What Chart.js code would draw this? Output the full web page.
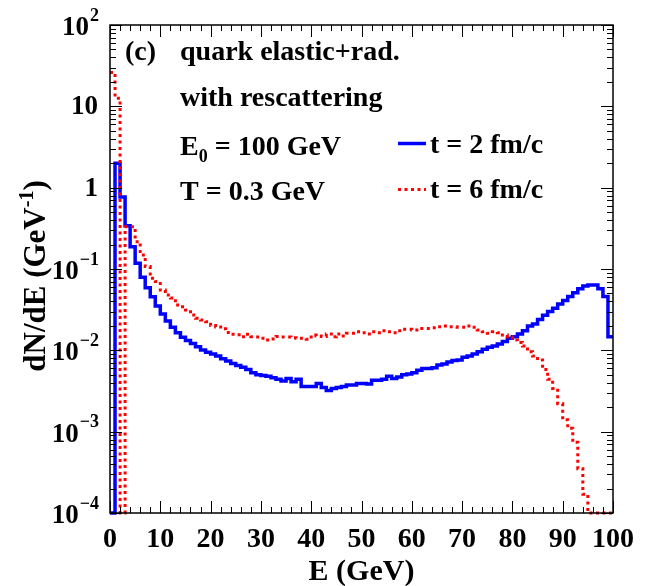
<!DOCTYPE html>
<html><head><meta charset="utf-8">
<script src="https://cdn.jsdelivr.net/npm/chart.js@4/dist/chart.umd.min.js"></script>
<style>html,body{margin:0;padding:0;background:#fff}#wrap{width:646px;height:586px}</style>
</head><body><div id="wrap"><canvas id="c" width="646" height="586"></canvas></div>
<script>
// ---- data (bin low edges in GeV, bin width 1 GeV) ----
const binEdges = [0,1,2,3,4,5,6,7,8,9,10,11,12,13,14,15,16,17,18,19,20,21,22,23,24,25,26,27,28,29,30,31,32,33,34,35,36,37,38,39,40,41,42,43,44,45,46,47,48,49,50,51,52,53,54,55,56,57,58,59,60,61,62,63,64,65,66,67,68,69,70,71,72,73,74,75,76,77,78,79,80,81,82,83,84,85,86,87,88,89,90,91,92,93,94,95,96,97,98,99,100];
// t = 2 fm/c (blue, solid)
const dNdE_t2 = [0,2.0,0.77,0.34,0.188,0.118,0.079,0.059,0.0456,0.035,
 0.028,0.023,0.0192,0.0165,0.0145,0.0132,0.0121,0.0111,0.0101,0.0095,
 0.0090,0.0085,0.0079,0.0074,0.0069,0.0065,0.0062,0.0058,0.0053,0.0050,
 0.0049,0.0048,0.0046,0.0044,0.0042,0.0045,0.0041,0.0044,0.0036,0.0036,
 0.0036,0.0039,0.0035,0.0032,0.0034,0.0035,0.0036,0.00375,0.00375,0.0039,
 0.0039,0.00385,0.0043,0.0043,0.0044,0.0048,0.0045,0.0047,0.0050,0.0051,
 0.0053,0.0057,0.0060,0.0060,0.0061,0.0066,0.0068,0.0072,0.0075,0.0076,
 0.0082,0.0085,0.0090,0.0096,0.0103,0.0109,0.0113,0.0120,0.0128,0.0141,
 0.0147,0.0159,0.0174,0.0199,0.0211,0.024,0.027,0.030,0.033,0.037,
 0.041,0.046,0.051,0.057,0.062,0.0635,0.0635,0.057,0.046,0.0147];
// t = 6 fm/c (red, dotted)
const dNdE_t6 = [26,12.6,0,0.33,0.33,0.217,0.149,0.107,0.077,0.070,
 0.055,0.048,0.044,0.036,0.0344,0.0313,0.0272,0.0248,0.0236,0.0225,
 0.0202,0.0194,0.0184,0.0166,0.0158,0.0156,0.0147,0.0158,0.0147,0.0146,
 0.0141,0.0134,0.0138,0.0148,0.0146,0.0146,0.0143,0.0141,0.0141,0.0137,
 0.0154,0.0150,0.0148,0.0159,0.0147,0.0159,0.0150,0.0162,0.0162,0.0169,
 0.0165,0.0159,0.0169,0.0165,0.0174,0.0169,0.0165,0.0174,0.0182,0.0182,
 0.0178,0.0186,0.0186,0.0186,0.0189,0.0195,0.0199,0.0195,0.0195,0.0192,
 0.0192,0.0199,0.0192,0.0178,0.0169,0.0162,0.0169,0.0165,0.0154,0.0147,
 0.0134,0.0125,0.0113,0.0096,0.0085,0.0076,0.0058,0.0044,0.0034,0.0022,
 0.0014,0.0011,0.00074,0.00035,0.00017,0,0,0,0,0];
const xTickLabels = ['0','10','20','30','40','50','60','70','80','90','100'];
const yTickExponents = [-4,-3,-2,-1,0,1,2];
const seriesLabels = ['t = 2 fm/c','t = 6 fm/c'];
const Y_MIN = 1e-4, Y_MAX = 100, X_MIN = 0, X_MAX = 100;

const SERIF = '"Liberation Serif", "Times New Roman", Times, serif';
const f = (sz) => `bold ${sz}px ${SERIF}`;

function histPoints(values) {
  const pts = values.map((v, i) => ({x: binEdges[i], y: v > 0 ? v : Y_MIN}));
  pts.push({x: binEdges[values.length], y: pts[pts.length - 1].y});
  return pts;
}

const decor = {
  id: 'decor',
  afterDatasetsDraw(chart) {
    const {ctx, chartArea: a, scales: {x, y}} = chart;
    ctx.save();
    ctx.strokeStyle = '#000';
    ctx.fillStyle = '#000';
    // ticks
    ctx.lineWidth = 1;
    ctx.beginPath();
    for (let v = X_MIN; v <= X_MAX; v += 2) {
      const px = Math.round(x.getPixelForValue(v)) + 0.5;
      const len = (v % 10 === 0) ? 12 : 6;
      ctx.moveTo(px, a.bottom); ctx.lineTo(px, a.bottom - len);
      ctx.moveTo(px, a.top); ctx.lineTo(px, a.top + len);
    }
    for (const e of yTickExponents) {
      for (let k = 1; k <= 9; k++) {
        const val = k * Math.pow(10, e);
        if (val > Y_MAX * 1.0001) break;
        const py = Math.round(y.getPixelForValue(val)) + 0.5;
        const len = (k === 1) ? 12 : 6;
        ctx.moveTo(a.left, py); ctx.lineTo(a.left + len, py);
        ctx.moveTo(a.right, py); ctx.lineTo(a.right - len, py);
      }
    }
    ctx.stroke();
    // frame
    ctx.lineWidth = 1.5;
    ctx.strokeRect(a.left, a.top, a.right - a.left, a.bottom - a.top);

    // x tick labels
    ctx.font = f(28);
    ctx.textAlign = 'center';
    ctx.textBaseline = 'alphabetic';
    for (const lab of xTickLabels) {
      ctx.fillText(lab, x.getPixelForValue(Number(lab)), 547);
    }
    // y tick labels
    const xr = 99;
    for (const e of yTickExponents) {
      const py = y.getPixelForValue(Math.pow(10, e));
      ctx.textBaseline = 'middle';
      if (e === 0 || e === 1) {
        ctx.font = f(27); ctx.textAlign = 'right';
        ctx.fillText(e === 0 ? '1' : '10', xr - 1, py + 1);
      } else {
        const ex = e < 0 ? '\u2212' + (-e) : String(e);
        ctx.font = f(18);
        const w = ctx.measureText(ex).width;
        ctx.textAlign = 'left';
        ctx.fillText(ex, xr - w, py - 9);
        ctx.font = f(27); ctx.textAlign = 'right';
        ctx.fillText('10', xr - w - 1, py + 3);
      }
    }
    // x title
    ctx.font = f(30); ctx.textAlign = 'center'; ctx.textBaseline = 'alphabetic';
    ctx.fillText('E (GeV)', (a.left + a.right) / 2, 580);
    // y title (rotated)
    ctx.save();
    ctx.translate(45, 276);
    ctx.rotate(-Math.PI / 2);
    ctx.textAlign = 'left'; ctx.textBaseline = 'alphabetic';
    const p1 = 'dN/dE (GeV', p2 = '-1', p3 = ')';
    ctx.font = f(31); const w1 = ctx.measureText(p1).width, w3 = ctx.measureText(p3).width;
    ctx.font = f(20); const w2 = ctx.measureText(p2).width;
    let sx = -(w1 + w2 + w3) / 2;
    ctx.font = f(31); ctx.fillText(p1, sx, 0); sx += w1;
    ctx.font = f(20); ctx.fillText(p2, sx, -12); sx += w2;
    ctx.font = f(31); ctx.fillText(p3, sx, 0);
    ctx.restore();

    // annotation
    ctx.textAlign = 'left'; ctx.textBaseline = 'alphabetic';
    ctx.font = f(28);
    ctx.fillText('(c)', 125, 60);
    ctx.fillText('quark elastic+rad.', 180, 60);
    ctx.fillText('with rescattering', 180, 106);
    let tx = 180;
    ctx.fillText('E', tx, 155); tx += ctx.measureText('E').width;
    ctx.font = f(18); ctx.fillText('0', tx, 162); tx += ctx.measureText('0').width;
    ctx.font = f(28); ctx.fillText(' = 100 GeV', tx, 155);
    ctx.fillText('T = 0.3 GeV', 180, 200);

    // legend
    const ds = chart.data.datasets;
    const legY = [143.5, 189.5], legT = [153, 198];
    for (let i = 0; i < 2; i++) {
      ctx.save();
      ctx.strokeStyle = ds[i].borderColor;
      ctx.lineWidth = ds[i].borderWidth;
      ctx.setLineDash(ds[i].borderDash || []);
      ctx.beginPath(); ctx.moveTo(398, legY[i]); ctx.lineTo(426, legY[i]); ctx.stroke();
      ctx.restore();
      ctx.font = f(28); ctx.fillStyle = '#000';
      ctx.fillText(seriesLabels[i], 430, legT[i]);
    }
    ctx.restore();
  }
};

new Chart(document.getElementById('c'), {
  type: 'line',
  data: {
    datasets: [
      {label: seriesLabels[0], data: histPoints(dNdE_t2), borderColor: '#0000ff', borderWidth: 3.5,
       stepped: 'before', pointRadius: 0, fill: false, clip: false, order: 2, borderJoinStyle: 'miter'},
      {label: seriesLabels[1], data: histPoints(dNdE_t6), borderColor: '#ff0000', borderWidth: 3,
       borderDash: [3, 3.5], stepped: 'before', pointRadius: 0, fill: false, clip: false, order: 1, borderJoinStyle: 'miter'}
    ]
  },
  options: {
    responsive: false,
    animation: false,
    devicePixelRatio: 1,
    layout: {padding: {top: 25, right: 33, left: 0, bottom: 0}},
    plugins: {legend: {display: false}, tooltip: {enabled: false}},
    scales: {
      x: {type: 'linear', min: X_MIN, max: X_MAX, grid: {display: false}, border: {display: false},
          ticks: {display: false}, afterFit: (s) => { s.height = 73; }},
      y: {type: 'logarithmic', min: Y_MIN, max: Y_MAX, grid: {display: false}, border: {display: false},
          ticks: {display: false}, afterFit: (s) => { s.width = 110; }}
    }
  },
  plugins: [decor]
});
</script>
</body></html>
